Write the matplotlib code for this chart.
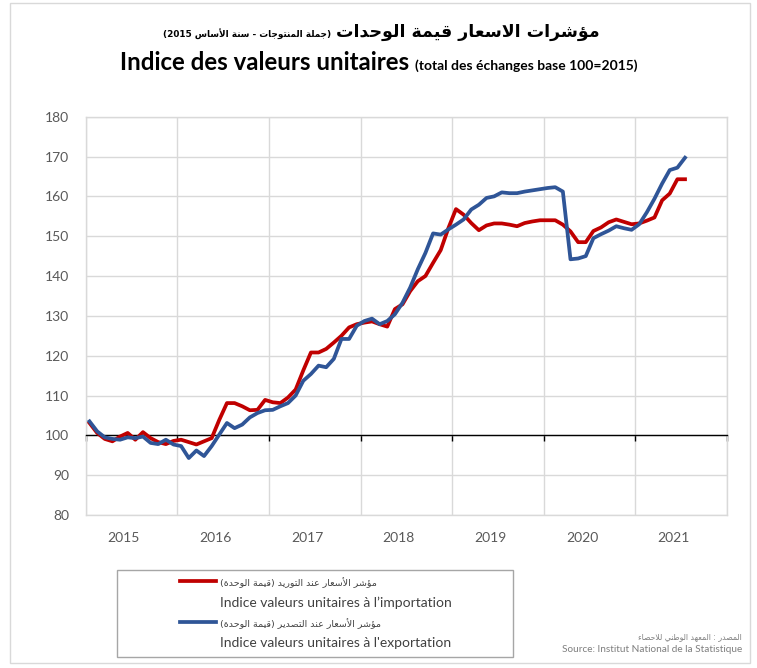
import re
import matplotlib
matplotlib.use('Agg')
import matplotlib.pyplot as plt
import numpy as np
from matplotlib.lines import Line2D
from matplotlib.patches import Rectangle

# Données mensuelles janv. 2015 - juil. 2021 (base 100 = 2015)
years = ['2015', '2016', '2017', '2018', '2019', '2020', '2021']
import_idx = [103.1, 100.6, 99.1, 98.5, 99.7, 100.6, 98.9, 100.8, 99.3, 98.3,
              97.8, 98.6, 98.9, 98.3, 97.7, 98.5, 99.3, 103.9, 108.1, 108.1,
              107.3, 106.3, 106.4, 108.9, 108.3, 108.1, 109.5, 111.5, 116.3, 120.8,
              120.8, 121.7, 123.3, 125.0, 127.1, 127.9, 128.3, 128.6, 127.9, 127.3,
              131.7, 132.9, 136.2, 138.7, 140.0, 143.3, 146.5, 152.0, 156.8, 155.4,
              153.3, 151.5, 152.7, 153.2, 153.2, 152.9, 152.5, 153.3, 153.7, 154.0,
              154.0, 154.0, 152.9, 151.2, 148.5, 148.5, 151.3, 152.2, 153.5, 154.2,
              153.6, 153.0, 153.2, 153.9, 154.7, 159.0, 160.7, 164.3, 164.3]
export_idx = [103.5, 101.0, 99.5, 99.1, 98.9, 99.5, 99.3, 99.7, 98.1, 97.8,
              98.9, 97.7, 97.3, 94.3, 96.2, 94.8, 97.3, 100.2, 103.1, 101.8,
              102.7, 104.5, 105.6, 106.3, 106.4, 107.3, 108.1, 110.0, 113.7, 115.4,
              117.5, 117.1, 119.2, 124.2, 124.2, 127.5, 128.7, 129.3, 127.9, 128.7,
              130.4, 133.3, 137.1, 141.7, 145.8, 150.7, 150.4, 151.7, 152.9, 154.2,
              156.7, 157.9, 159.6, 160.0, 161.0, 160.8, 160.8, 161.2, 161.5, 161.8,
              162.1, 162.3, 161.2, 144.2, 144.4, 145.0, 149.5, 150.5, 151.4, 152.5,
              152.0, 151.6, 153.0, 156.0, 159.4, 163.2, 166.6, 167.2, 169.7]

title_ar = 'مؤشرات الاسعار قيمة الوحدات'
subtitle_ar = '(جملة المنتوجات - سنة الأساس 2015)'
title_fr = 'Indice des valeurs unitaires'
subtitle_fr = '(total des échanges base 100=2015)'
label_imp_ar = 'مؤشر الأسعار عند التوريد (قيمة الوحدة)'
label_imp_fr = "Indice valeurs unitaires à l’importation"
label_exp_ar = 'مؤشر الأسعار عند التصدير (قيمة الوحدة)'
label_exp_fr = "Indice valeurs unitaires à l'exportation"
source_ar = 'المصدر : المعهد الوطني للاحصاء'
source_fr = 'Source: Institut National de la Statistique'

# matplotlib ne fait pas la mise en forme arabe : formes contextuelles + ordre visuel
DUAL = {'ئ': 0xFE89, 'ب': 0xFE8F, 'ت': 0xFE95, 'ث': 0xFE99, 'ج': 0xFE9D, 'ح': 0xFEA1,
        'خ': 0xFEA5, 'س': 0xFEB1, 'ش': 0xFEB5, 'ص': 0xFEB9, 'ض': 0xFEBD, 'ط': 0xFEC1,
        'ظ': 0xFEC5, 'ع': 0xFEC9, 'غ': 0xFECD, 'ف': 0xFED1, 'ق': 0xFED5, 'ك': 0xFED9,
        'ل': 0xFEDD, 'م': 0xFEE1, 'ن': 0xFEE5, 'ه': 0xFEE9, 'ي': 0xFEF1}
RIGHT = {'آ': 0xFE81, 'أ': 0xFE83, 'ؤ': 0xFE85, 'إ': 0xFE87, 'ا': 0xFE8D, 'ة': 0xFE93,
         'د': 0xFEA9, 'ذ': 0xFEAB, 'ر': 0xFEAD, 'ز': 0xFEAF, 'و': 0xFEED, 'ى': 0xFEEF}
LAMALEF = {'آ': 0xFEF5, 'أ': 0xFEF7, 'إ': 0xFEF9, 'ا': 0xFEFB}


def shape(text):
    out = []
    i = 0
    n = len(text)
    while i < n:
        c = text[i]
        joins_prev = i > 0 and text[i - 1] in DUAL
        if c == 'ل' and i + 1 < n and text[i + 1] in LAMALEF:
            out.append(chr(LAMALEF[text[i + 1]] + (1 if joins_prev else 0)))
            i += 2
            continue
        nxt = text[i + 1] if i + 1 < n else ''
        if c in DUAL:
            joins_next = nxt in DUAL or nxt in RIGHT
            base = DUAL[c]
            if joins_prev and joins_next:
                g = base + 3
            elif joins_prev:
                g = base + 1
            elif joins_next:
                g = base + 2
            else:
                g = base
            out.append(chr(g))
        elif c in RIGHT:
            out.append(chr(RIGHT[c] + (1 if joins_prev else 0)))
        elif c == 'ء':
            out.append('\uFE80')
        else:
            out.append(c)
        i += 1
    vis = ''.join(reversed(out))
    vis = re.sub(r'[0-9]+', lambda m: m.group(0)[::-1], vis)
    return vis.translate(str.maketrans('()', ')('))


W, H = 757, 668
fig = plt.figure(figsize=(W / 100, H / 100), dpi=100)
fig.patch.set_facecolor('white')


def fx(px):
    return px / W


def fy(py):
    return 1 - py / H


ax = fig.add_axes([fx(85.7), fy(515), (727 - 85.7) / W, (515 - 116.7) / H])
x = np.arange(len(import_idx))
l_imp, = ax.plot(x, import_idx, color='#c00000', lw=2.7, zorder=3)
l_exp, = ax.plot(x, export_idx, color='#2f5597', lw=2.7, zorder=4)

ax.set_xlim(-0.5, 83.5)
ax.set_ylim(80, 180)
ax.set_yticks(range(80, 181, 10))
ax.set_xticks(np.arange(-0.5, 84, 12))
ax.set_axisbelow(True)
ax.grid(True, color='#d9d9d9', lw=1)
ax.tick_params(axis='x', direction='out', length=4, width=1, color='black', labelbottom=False)
ax.tick_params(axis='y', length=0, pad=12, labelcolor='#595959', labelsize=10)
for lab in ax.get_yticklabels():
    lab.set_fontfamily('Lato')
ax.spines['bottom'].set_position(('data', 100))
ax.spines['bottom'].set_color('black')
ax.spines['bottom'].set_linewidth(1)
ax.spines['bottom'].set_zorder(2.6)
for s in ['left', 'right', 'top']:
    ax.spines[s].set_color('#d9d9d9')
    ax.spines[s].set_linewidth(1)
ax.axhline(80, color='#d9d9d9', lw=1, clip_on=False, zorder=1)

sec = ax.secondary_xaxis('bottom')
sec.set_xticks(np.arange(4.5, 84, 12), labels=years)
sec.tick_params(length=0, pad=12, labelcolor='#595959', labelsize=10)
sec.spines['bottom'].set_visible(False)
for lab in sec.get_xticklabels():
    lab.set_fontfamily('Lato')

# titres : chaque sous-titre est placé contre son titre
renderer = fig.canvas.get_renderer()
t_ar = fig.text(fx(600), fy(37), shape(title_ar), ha='right', va='baseline',
                fontsize=12.5, fontweight='bold', family='DejaVu Sans')
left_px = t_ar.get_window_extent(renderer).x0
fig.text((left_px - 5) / W, fy(37), shape(subtitle_ar), ha='right', va='baseline',
         fontsize=6.4, fontweight='bold', family='DejaVu Sans')
t_fr = fig.text(fx(120), fy(70), title_fr, ha='left', va='baseline',
                fontsize=17.3, fontweight='bold', family='Lato')
right_px = t_fr.get_window_extent(renderer).x1
fig.text((right_px + 6) / W, fy(70), subtitle_fr, ha='left', va='baseline',
         fontsize=10, fontweight='bold', family='Lato')

# légende
blank = Line2D([], [], color='none')
leg = fig.legend([l_imp, blank, l_exp, blank],
                 [shape(label_imp_ar), label_imp_fr, shape(label_exp_ar), label_exp_fr],
                 loc='upper left', bbox_to_anchor=(fx(180), fy(576.5)),
                 bbox_transform=fig.transFigure, frameon=False, fontsize=10,
                 handlelength=2.6, handletextpad=0.3, labelspacing=0.6,
                 borderpad=0, borderaxespad=0)
for j, t in enumerate(leg.get_texts()):
    t.set_color('#404040')
    if j % 2 == 0:
        t.set_fontfamily('DejaVu Sans')
        t.set_fontsize(6.8)
    else:
        t.set_fontfamily('Lato')
fig.add_artist(Rectangle((fx(117), fy(657)), (513 - 117) / W, (657 - 570) / H,
                         transform=fig.transFigure, fill=False, edgecolor='#a6a6a6', lw=1))

# source
fig.text(fx(742), fy(639), shape(source_ar), ha='right', va='baseline',
         fontsize=5.6, color='#7f7f7f', family='DejaVu Sans')
fig.text(fx(742), fy(652), source_fr, ha='right', va='baseline',
         fontsize=7.2, color='#7f7f7f', family='Lato')

# cadre extérieur
fig.add_artist(Rectangle((fx(10), fy(663)), (750 - 10) / W, (663 - 3) / H,
                         transform=fig.transFigure, fill=False, edgecolor='#d9d9d9', lw=1))

fig.savefig('out.png', dpi=100)
